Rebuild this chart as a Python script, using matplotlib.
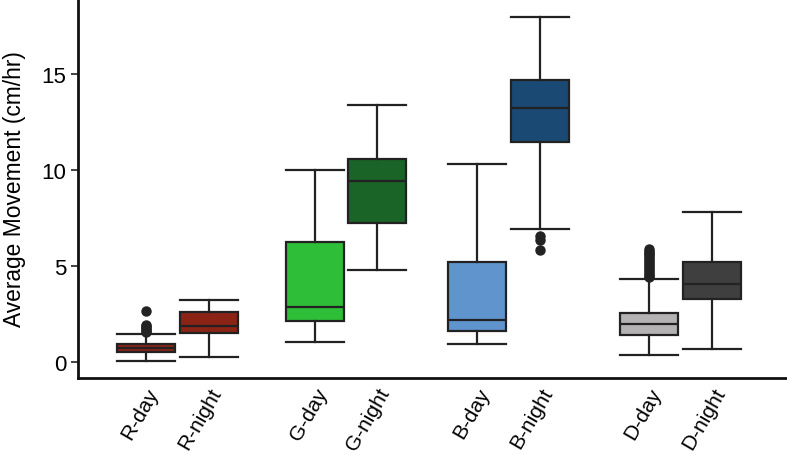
import matplotlib
matplotlib.use("Agg")
import matplotlib.pyplot as plt

plt.rcParams['font.family'] = ['Liberation Sans', 'DejaVu Sans']

categories = ["R-day", "R-night", "G-day", "G-night", "B-day", "B-night", "D-day", "D-night"]
whislo = [0.05, 0.28, 1.03, 4.79, 0.94, 6.93, 0.36, 0.68]
q1     = [0.54, 1.49, 2.12, 7.24, 1.60, 11.47, 1.41, 3.30]
med    = [0.73, 1.86, 2.88, 9.41, 2.19, 13.23, 1.98, 4.08]
q3     = [0.95, 2.59, 6.25, 10.57, 5.19, 14.70, 2.55, 5.22]
whishi = [1.47, 3.21, 10.00, 13.39, 10.31, 17.95, 4.31, 7.81]
fliers = [
    [1.55, 1.62, 1.70, 1.78, 1.86, 1.95, 2.66],
    [],
    [],
    [],
    [],
    [6.55, 6.35, 5.85],
    [4.40, 4.50, 4.60, 4.70, 4.80, 4.90, 5.00, 5.10, 5.20, 5.30, 5.40, 5.50, 5.60, 5.70, 5.80, 5.89],
    [],
]
colors = ["#8C2416", "#8C2416", "#2EBE38", "#1B6427", "#5F95CC", "#1A4A74", "#B4B2B2", "#3F3F3F"]

# layout
positions = [0, 1.0, 2.69, 3.68, 5.27, 6.27, 8.0, 9.01]

fig = plt.figure(figsize=(7.87, 4.56), dpi=100)
ax = fig.add_axes([0.099, 0.169, 0.901, 0.831])

stats = []
for i, c in enumerate(categories):
    stats.append(dict(label=c, whislo=whislo[i], q1=q1[i], med=med[i], q3=q3[i],
                      whishi=whishi[i], fliers=fliers[i]))

edge = "#222222"
bp = ax.bxp(stats, positions=positions, widths=0.92, patch_artist=True,
            boxprops=dict(edgecolor=edge, linewidth=1.6),
            medianprops=dict(color=edge, linewidth=1.6),
            whiskerprops=dict(color=edge, linewidth=1.6),
            capprops=dict(color=edge, linewidth=1.6),
            flierprops=dict(marker='o', markerfacecolor=edge, markeredgecolor=edge,
                            markersize=6.5),
            capwidths=0.92)
for patch, col in zip(bp['boxes'], colors):
    patch.set_facecolor(col)

ax.set_xlim(-1.085, 10.2)
ax.set_ylim(-0.83, 18.9)
ax.set_yticks([0, 5, 10, 15])
ax.tick_params(axis='y', labelsize=16, length=5, width=1.2, color='#222222')
ax.tick_params(axis='x', labelsize=15, length=0, pad=4.5)
ax.set_xticks(positions)
ax.set_xticklabels(categories, rotation=60, ha='right', rotation_mode='anchor')
ax.set_ylabel("Average Movement (cm/hr)", fontsize=16.4, labelpad=11)

for s in ['top', 'right']:
    ax.spines[s].set_visible(False)
for s in ['left', 'bottom']:
    ax.spines[s].set_linewidth(2)
    ax.spines[s].set_color('#111111')

fig.savefig("out.png", dpi=100)
